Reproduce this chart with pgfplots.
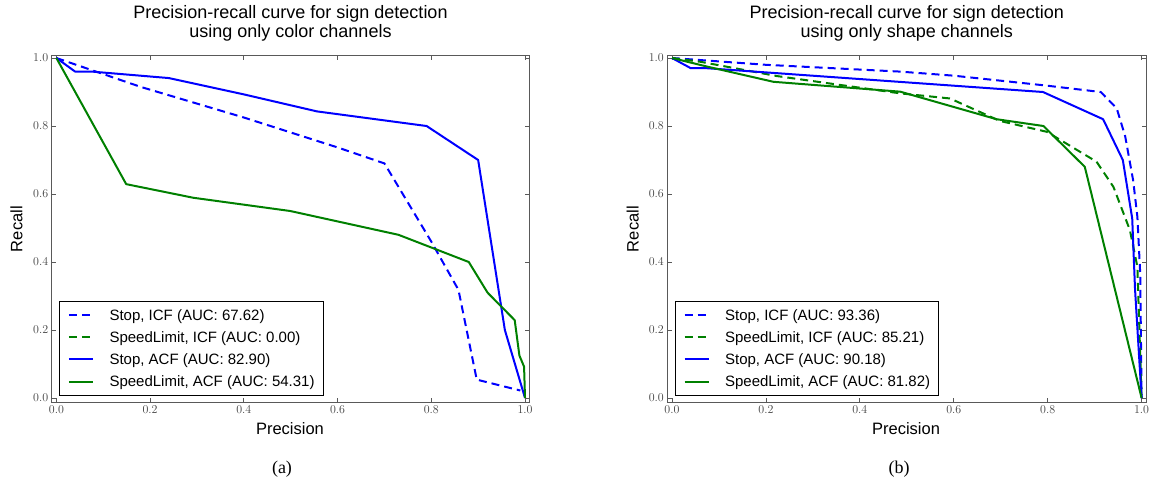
\documentclass[border=0pt]{standalone}
\usepackage{fontspec}
\usepackage{pgfplots}
\pgfplotsset{compat=1.18}
\newfontfamily\sans{Liberation Sans}
\newfontfamily\capserif{Liberation Serif}
\definecolor{mgreen}{rgb}{0,0.5,0}
\definecolor{mblue}{rgb}{0,0,1}
\definecolor{framec}{rgb}{0.35,0.35,0.35}
\pgfplotsset{
  prstyle/.style={
    scale only axis, width=478pt, height=347.2pt,
    xmin=-0.01, xmax=1.01, ymin=-0.0138, ymax=1.0074,
    xtick={0,0.2,0.4,0.6,0.8,1.0}, ytick={0,0.2,0.4,0.6,0.8,1.0},
    tick align=inside, major tick length=4.5pt,
    tick style={framec, line width=0.8pt},
    axis line style={framec, line width=1.2pt},
    tick label style={font=\fontsize{13}{15}\selectfont, text=black!75},
    xticklabel style={/pgf/number format/.cd, fixed, fixed zerofill, precision=1},
    yticklabel style={/pgf/number format/.cd, fixed, fixed zerofill, precision=1},
    legend cell align=left,
    legend image code/.code={\draw[##1] (0pt,0pt) -- (24pt,0pt);},
    legend style={at={(0,0)}, anchor=south west, xshift=7.3pt, yshift=7pt,
      draw=black, line width=0.8pt, fill=white,
      font=\sans\fontsize{15}{18}\selectfont,
      inner xsep=8.5pt, inner ysep=8.3pt, row sep=11.5pt, column sep=15.6pt,
      nodes={inner sep=0pt, text height=10.7pt, text depth=0pt}},
  },
  sicf/.style={mblue, line width=2pt, dash pattern=on 8pt off 5pt, line join=round, mark=none},
  gicf/.style={mgreen, line width=2pt, dash pattern=on 8pt off 5pt, line join=round, mark=none},
  sacf/.style={mblue, line width=2pt, line join=round, mark=none},
  gacf/.style={mgreen, line width=2pt, line join=round, mark=none},
}
\begin{document}
\begin{tikzpicture}
\path[use as bounding box] (0,0) rectangle (1149pt,484pt);
% ---------------- (a)
\begin{axis}[prstyle, at={(51.7pt,81.3pt)}, anchor=south west]
\addplot[sicf] coordinates {(0,1) (0.18,0.915) (0.4,0.825) (0.6,0.737) (0.70,0.69) (0.80,0.46) (0.858,0.318) (0.897,0.054) (0.99,0.022)};
\addlegendentry{Stop, ICF (AUC: 67.62)}
\addlegendimage{gicf}
\addlegendentry{SpeedLimit, ICF (AUC: 0.00)}
\addplot[sacf] coordinates {(0,1) (0.04,0.96) (0.076,0.96) (0.24,0.941) (0.40,0.893) (0.556,0.843) (0.79,0.80) (0.90,0.70) (0.957,0.20) (1.0,0.0)};
\addlegendentry{Stop, ACF (AUC: 82.90)}
\addplot[gacf] coordinates {(0,1) (0.149,0.629) (0.292,0.589) (0.499,0.55) (0.73,0.48) (0.88,0.40) (0.92,0.31) (0.978,0.229) (0.988,0.125) (0.998,0.092) (1.0,0.0)};
\addlegendentry{SpeedLimit, ACF (AUC: 54.31)}
\end{axis}
% ---------------- (b)
\begin{axis}[prstyle, width=479pt, at={(667.3pt,81.3pt)}, anchor=south west]
\addplot[sicf] coordinates {(0,1) (0.2,0.98) (0.486,0.96) (0.6,0.948) (0.79,0.92) (0.913,0.90) (0.947,0.852) (0.965,0.77) (0.982,0.64) (0.991,0.533) (0.997,0.367) (1.0,0.0)};
\addlegendentry{Stop, ICF (AUC: 93.36)}
\addplot[gicf] coordinates {(0,1) (0.06,0.989) (0.223,0.947) (0.486,0.896) (0.592,0.881) (0.698,0.815) (0.798,0.783) (0.904,0.695) (0.94,0.621) (0.975,0.494) (0.991,0.386) (1.0,0.0)};
\addlegendentry{SpeedLimit, ICF (AUC: 85.21)}
\addplot[sacf] coordinates {(0,1) (0.04,0.97) (0.074,0.97) (0.79,0.90) (0.918,0.82) (0.96,0.70) (0.98,0.528) (0.986,0.32) (1.0,0.0)};
\addlegendentry{Stop, ACF (AUC: 90.18)}
\addplot[gacf] coordinates {(0,1) (0.074,0.975) (0.216,0.93) (0.486,0.901) (0.691,0.82) (0.791,0.80) (0.879,0.68) (1.0,0.0)};
\addlegendentry{SpeedLimit, ACF (AUC: 81.82)}
\end{axis}
% ---------------- texts
\node[anchor=base, inner sep=0pt, font=\sans\fontsize{18}{21}\selectfont] at (290.5pt,465pt) {Precision-recall curve for sign detection};
\node[anchor=base, inner sep=0pt, font=\sans\fontsize{18}{21}\selectfont] at (290.5pt,446pt) {using only color channels};
\node[anchor=base, inner sep=0pt, font=\sans\fontsize{18}{21}\selectfont] at (906.8pt,465pt) {Precision-recall curve for sign detection};
\node[anchor=base, inner sep=0pt, font=\sans\fontsize{18}{21}\selectfont] at (906.8pt,446pt) {using only shape channels};
\node[anchor=base, inner sep=0pt, font=\sans\fontsize{16.5}{19}\selectfont] at (290pt,49.5pt) {Precision};
\node[anchor=base, inner sep=0pt, font=\sans\fontsize{16.5}{19}\selectfont] at (906pt,49.5pt) {Precision};
\node[rotate=90, anchor=center, inner sep=0pt, font=\sans\fontsize{16.5}{19}\selectfont] at (16.6pt,254.9pt) {Recall};
\node[rotate=90, anchor=center, inner sep=0pt, font=\sans\fontsize{16.5}{19}\selectfont] at (632.6pt,254.9pt) {Recall};
\node[anchor=center, inner sep=0pt, font=\capserif\fontsize{18}{21}\selectfont] at (282pt,15pt) {(a)};
\node[anchor=center, inner sep=0pt, font=\capserif\fontsize{18}{21}\selectfont] at (899pt,15pt) {(b)};
\end{tikzpicture}
\end{document}
